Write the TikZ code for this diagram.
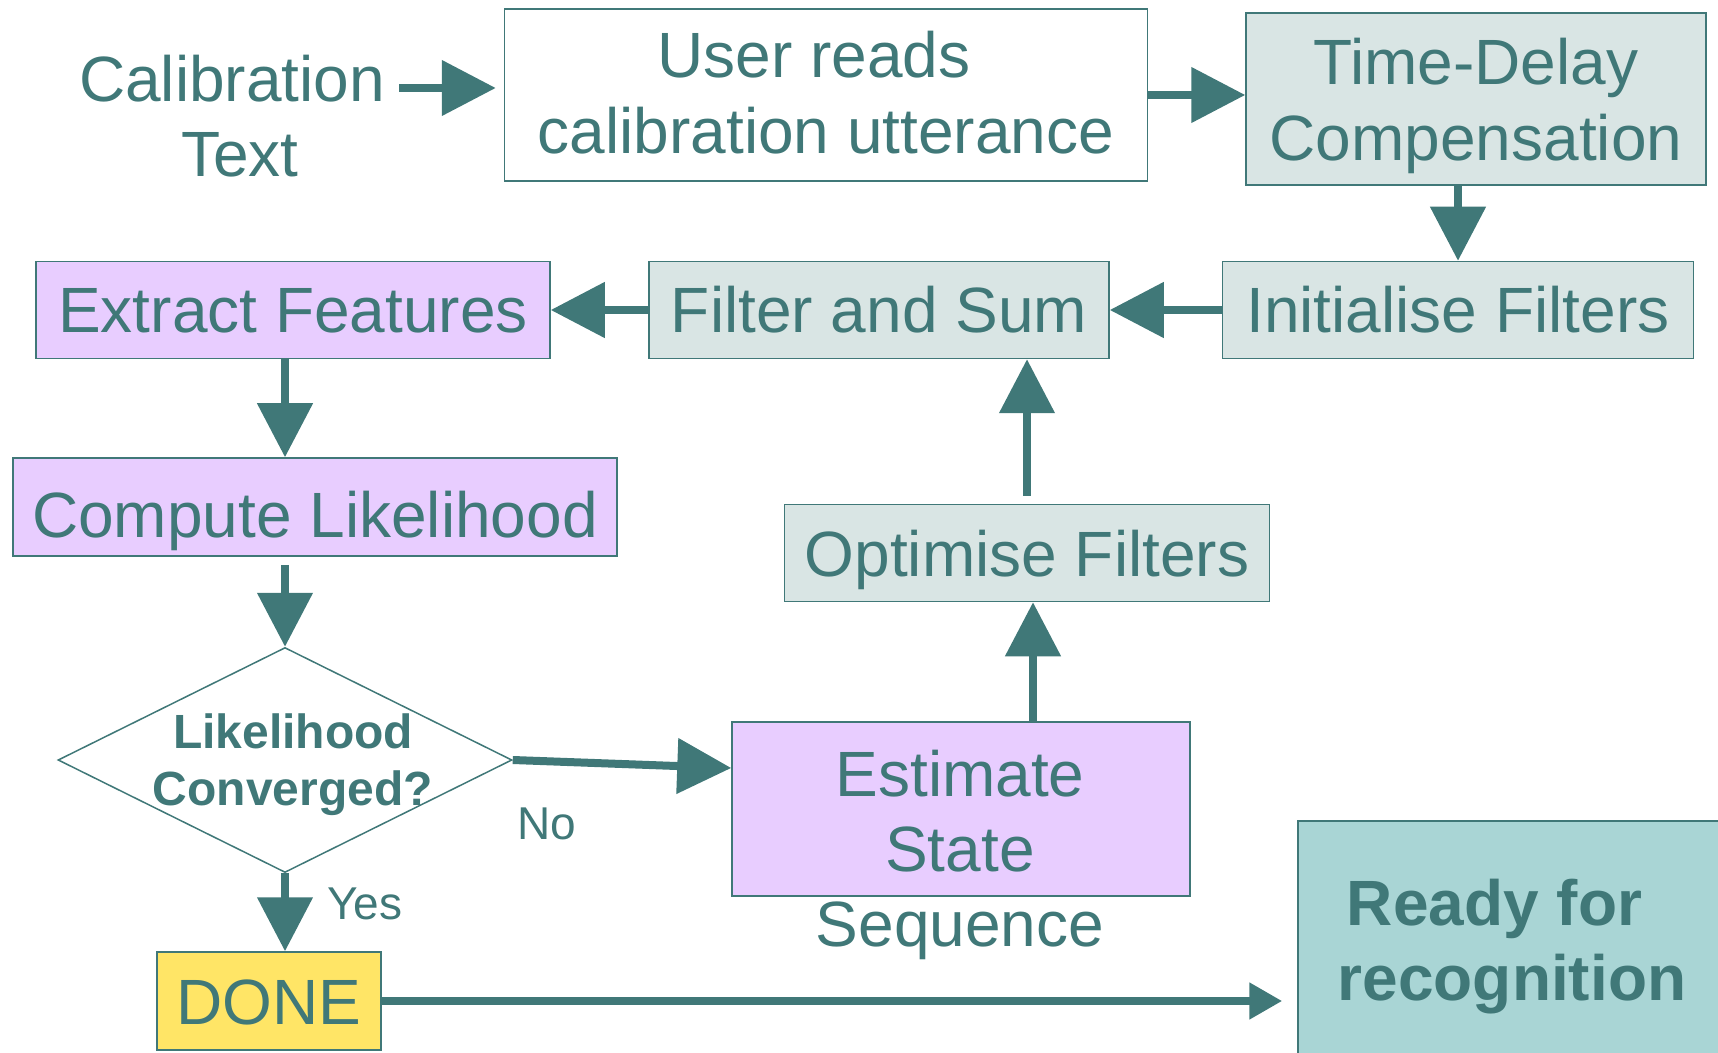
\documentclass[tikz,border=0pt]{standalone}
\usepackage{fontspec}
\setmainfont{Liberation Sans}
\usepackage{xcolor}
\usetikzlibrary{arrows.meta, positioning, shapes.geometric}

\definecolor{flowteal}{HTML}{407878}
\definecolor{flowgrey}{HTML}{D9E5E4}
\definecolor{flowlilac}{HTML}{E8CDFF}
\definecolor{flowyellow}{HTML}{FFE566}
\definecolor{flowaqua}{HTML}{A9D5D5}

\begin{document}
\begin{tikzpicture}[
    x=0.5pt, y=-0.5pt,
    box/.style={draw=flowteal, line width=0.75pt, align=center, inner sep=0pt,
                text=flowteal, font=\fontsize{32}{38}\selectfont},
    oneline/.style={text height=23pt, text depth=0pt},
    greybox/.style={box, fill=flowgrey},
    lilacbox/.style={box, fill=flowlilac},
    arrow/.style={-{Triangle[length=27pt, width=27pt]}, line width=4pt, draw=flowteal},
    note/.style={align=center, text=flowteal, font=\fontsize{23}{27}\selectfont},
    big/.style={font=\fontsize{32}{37.5}\selectfont}
  ]
  \clip (0,0) rectangle (1718,1053);

  % top row
  \node[note, big] (calib) at (232,116) {Calibration\\\hspace*{8pt}Text};
  \node[box, text depth=3pt, minimum width=321.5pt, minimum height=86pt] (user) at (826,95) {User reads\hspace*{12pt}\\calibration utterance};
  \node[greybox, text depth=0pt, minimum width=230pt, minimum height=86pt] (tdc) at (1476,99) {Time-Delay\\Compensation};

  % second row
  \node[greybox, oneline, minimum width=235.5pt, minimum height=48.5pt] (init) at (1458,310) {Initialise Filters};
  \node[greybox, oneline, minimum width=230pt, minimum height=48.5pt] (fsum) at (879,310) {Filter and Sum};
  \node[lilacbox, oneline, minimum width=257pt, minimum height=48.5pt] (extract) at (293,310) {Extract Features};

  % left column
  \node[lilacbox, oneline, text height=30pt, minimum width=302pt, minimum height=49pt] (compute) at (315,507) {Compute Likelihood};
  \node[diamond, draw=flowteal, line width=0.75pt, minimum width=227pt, minimum height=112.5pt,
        inner sep=0pt] (conv) at (285,760) {};
  \node[note, font=\bfseries\fontsize{24}{28.5}\selectfont] (convtext) at (293,765) {Likelihood\\Converged?};
  \node[box, oneline, fill=flowyellow, minimum width=112pt, minimum height=49pt] (done) at (269,1001) {DONE};

  % right part
  \node[greybox, oneline, minimum width=242.5pt, minimum height=48.5pt] (optim) at (1027,553) {Optimise Filters};
  \node[lilacbox, minimum width=229pt, minimum height=87pt] (est) at (961,809) {};
  \node[note, big] (esttext) at (960,855) {Estimate\\State\\Sequence};
  \node[box, fill=flowaqua, font=\bfseries\fontsize{32}{37.5}\selectfont, text depth=0pt,
        minimum width=214pt, minimum height=119pt] (ready) at (1512,940) {Ready for\hspace*{17.5pt}\\recognition};

  % connectors
  \draw[arrow, shorten <=3.5pt, shorten >=4pt] ([yshift=14pt]calib.east) -- ([yshift=3.5pt]user.west);
  \draw[arrow] (user.east) -- (user.east -| tdc.west);
  \draw[arrow] (init.north |- tdc.south) -- (init.north);
  \draw[arrow] (init.west) -- (fsum.east);
  \draw[arrow] (fsum.west) -- (extract.east);
  \draw[arrow] (extract.south -| conv) -- (compute.north -| conv);
  \draw[arrow, shorten <=4pt] (compute.south -| conv) -- (conv.north);
  \draw[arrow] (conv.south) -- (done.north -| conv);
  \draw[arrow] (conv.east) -- ([yshift=20.5pt]est.west);
  \draw[arrow] ([xshift=36pt]est.north) -- ([xshift=3pt]optim.south);
  \draw[arrow, shorten <=4pt] (optim.north) -- (optim.north |- fsum.south);
  \draw[arrow, -{Triangle[length=16.5pt, width=17.5pt]}, shorten >=7.5pt] (done.east) -- (done.east -| ready.west);

  \node[note] (yes) at (365,904) {Yes};
  \node[note] (no) at (547,824) {No};
\end{tikzpicture}
\end{document}
